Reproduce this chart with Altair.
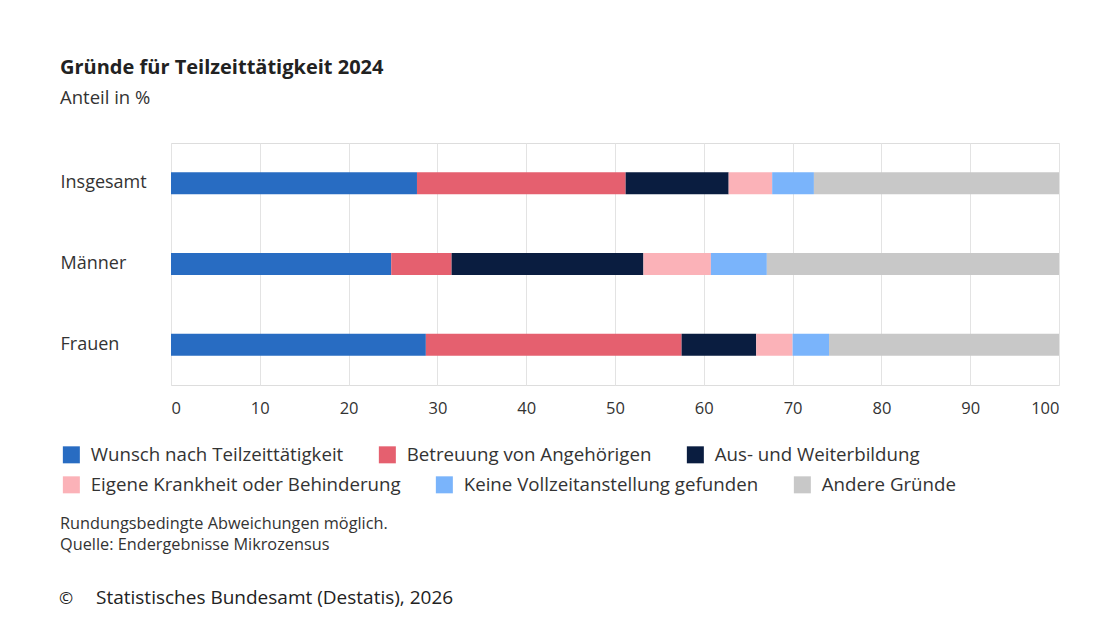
import altair as alt
import pandas as pd

groups = ["Insgesamt", "Männer", "Frauen"]
reasons = [
    "Wunsch nach Teilzeittätigkeit",
    "Betreuung von Angehörigen",
    "Aus- und Weiterbildung",
    "Eigene Krankheit oder Behinderung",
    "Keine Vollzeitanstellung gefunden",
    "Andere Gründe",
]
colors = ["#286cc2", "#e5606f", "#0a1d40", "#fbb2b8", "#7ab4fb", "#c8c8c8"]

insgesamt = [27.7, 23.5, 11.6, 4.9, 4.7, 27.6]
maenner = [24.8, 6.8, 21.6, 7.6, 6.3, 32.9]
frauen = [28.7, 28.8, 8.4, 4.1, 4.1, 25.9]

x_ticks = [0, 10, 20, 30, 40, 50, 60, 70, 80, 90, 100]

footer_lines = [
    "Rundungsbedingte Abweichungen möglich.",
    "Quelle: Endergebnisse Mikrozensus",
]
copyright_sign = "©"
copyright_text = "Statistisches Bundesamt (Destatis), 2026"

rows = []
for g, vals in zip(groups, [insgesamt, maenner, frauen]):
    for i, (r, v) in enumerate(zip(reasons, vals)):
        rows.append({"Gruppe": g, "Grund": r, "Wert": v, "ord": i})
df = pd.DataFrame(rows)

FONT = "Open Sans"

x_axis = alt.Axis(
    values=x_ticks,
    title=None,
    domain=False,
    ticks=False,
    tickSize=0,
    labelPadding=15,
    labelFontSize=16.5,
    labelColor="#333333",
    labelFont=FONT,
    grid=True,
    gridColor="#e3e3e3",
)
y_axis = alt.Axis(
    domain=False,
    ticks=False,
    tickSize=0,
    labelAlign="left",
    labelPadding=111,
    labelFontSize=18,
    labelColor="#333333",
    labelFont=FONT,
)


def legend_at(y):
    return alt.Legend(
        title=None,
        orient="none",
        direction="horizontal",
        legendX=-109,
        legendY=y,
        columns=3,
        columnPadding=34,
        symbolType="square",
        symbolSize=289,
        symbolStrokeWidth=0,
        symbolOpacity=1,
        labelFontSize=18.7,
        labelColor="#333333",
        labelFont=FONT,
        labelOffset=10,
        labelLimit=400,
    )


base = alt.Chart(df).transform_stack(
    stack="Wert",
    groupby=["Gruppe"],
    sort=[alt.SortField("ord", order="ascending")],
    as_=["x0", "x1"],
)


def bar_layer(lo, hi, ly):
    return (
        base.transform_filter(f"datum.ord >= {lo} && datum.ord < {hi}")
        .mark_bar(size=22)
        .encode(
            x=alt.X("x0:Q", scale=alt.Scale(domain=[0, 100], nice=False), axis=x_axis),
            x2="x1:Q",
            y=alt.Y("Gruppe:N", sort=groups, title=None, axis=y_axis),
            color=alt.Color(
                "Grund:N",
                sort=reasons[lo:hi],
                scale=alt.Scale(domain=reasons[lo:hi], range=colors[lo:hi]),
                legend=legend_at(ly),
            ),
        )
    )


bars1 = bar_layer(0, 3, 302)
bars2 = bar_layer(3, 6, 332)


def txt(s, x, y, size, color):
    return alt.Chart(pd.DataFrame({"t": [s]})).mark_text(
        align="left", baseline="middle", fontSize=size, font=FONT, color=color
    ).encode(x=alt.value(x), y=alt.value(y), text="t:N")


foot1 = txt(footer_lines[0], -111, 381, 16.3, "#333333")
foot2 = txt(footer_lines[1], -111, 402, 16.3, "#333333")
copy1 = txt(copyright_sign, -112, 456, 17, "#222222")
copy2 = txt(copyright_text, -75, 455, 19, "#222222")

chart = (
    alt.layer(bars1, bars2, foot1, foot2, copy1, copy2)
    .resolve_scale(color="independent")
    .properties(
        width=888,
        height=242,
        autosize=alt.AutoSizeParams(type="none"),
        padding={"left": 163, "top": 135, "right": 30, "bottom": 232},
        title=alt.TitleParams(
            text="Gründe für Teilzeittätigkeit 2024",
            subtitle="Anteil in %",
            anchor="start",
            frame="group",
            dx=-111,
            offset=36,
            fontSize=20,
            fontWeight="bold",
            font=FONT,
            color="#222222",
            subtitleFont=FONT,
            subtitleFontSize=18.5,
            subtitleColor="#333333",
            subtitlePadding=11,
        ),
    )
    .configure_view(stroke="transparent", strokeWidth=0)
    .configure(background="white")
)

chart.save("out.html", embed_options={"renderer": "svg", "actions": False})
